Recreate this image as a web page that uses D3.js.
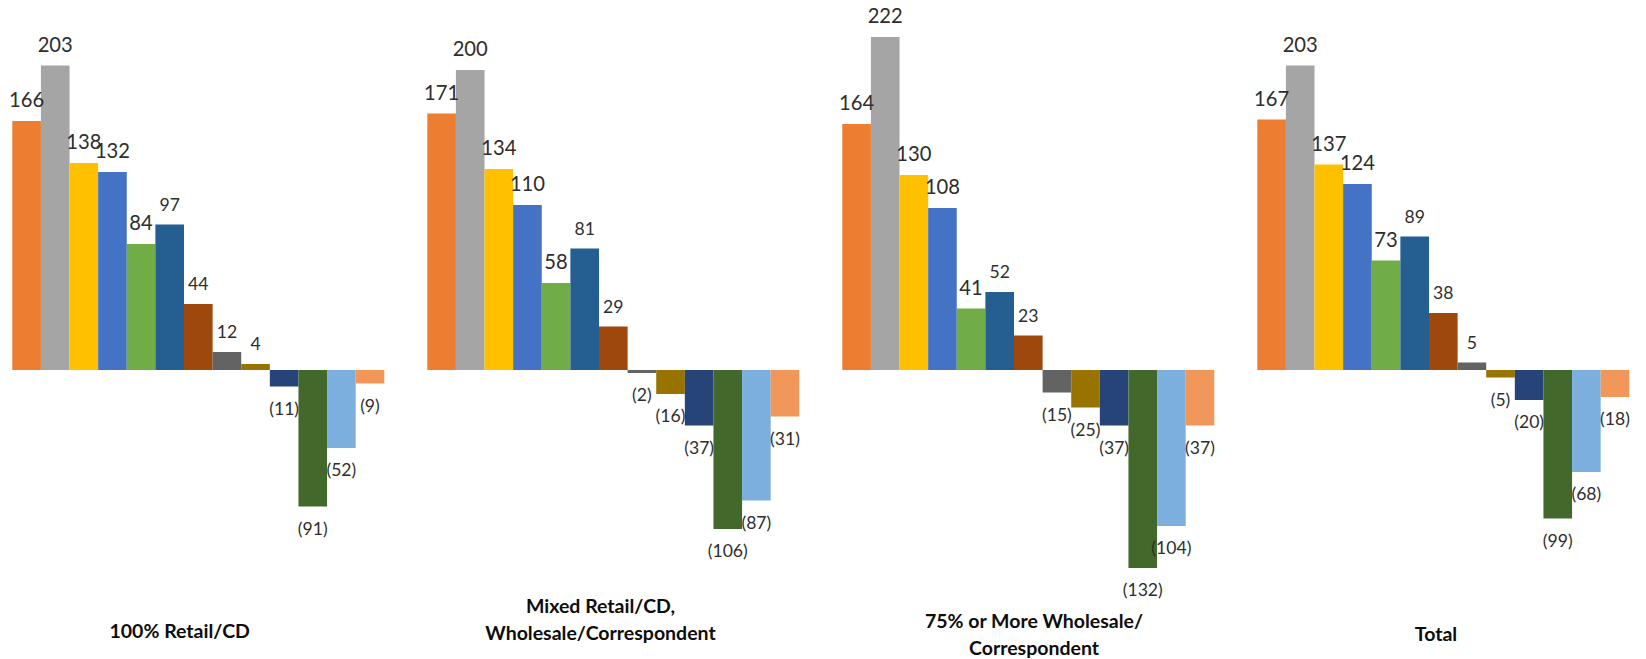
<!DOCTYPE html>
<html>
<head>
<meta charset="utf-8">
<script src="https://cdn.jsdelivr.net/npm/d3@7/dist/d3.min.js"></script>
<style>
  html, body { margin: 0; padding: 0; background: #ffffff; }
  svg { display: block; }
</style>
</head>
<body>
<svg id="chart" width="1646" height="659"></svg>
<script>
// Channel groups shown along the bottom
const categories = ["100% Retail/CD", "Mixed Retail/CD, Wholesale/Correspondent", "75% or More Wholesale/Correspondent", "Total"];
const categoryTitleLines = [
  ["100% Retail/CD"],
  ["Mixed Retail/CD,", "Wholesale/Correspondent"],
  ["75% or More Wholesale/", "Correspondent"],
  ["Total"]
];

// Thirteen series, in plotting order
const seriesKeys = ["s2", "s3", "s4", "s5", "s6", "s7", "s8", "s9", "s10", "s11", "s12", "s13", "s14"];
const seriesColors = ["#ED7D31", "#A5A5A5", "#FFC000", "#4472C4", "#70AD47", "#255E91", "#9E480E",
                      "#636363", "#997300", "#264478", "#43682B", "#7CAFDD", "#F1975A"];

// Values per group (negatives are shown in parentheses)
const retailValues    = [166, 203, 138, 132, 84, 97, 44, 12, 4, -11, -91, -52, -9];
const mixedValues     = [171, 200, 134, 110, 58, 81, 29, -2, -16, -37, -106, -87, -31];
const wholesaleValues = [164, 222, 130, 108, 41, 52, 23, -15, -25, -37, -132, -104, -37];
const totalValues     = [167, 203, 137, 124, 73, 89, 38, 5, -5, -20, -99, -68, -18];

const groupValues = [retailValues, mixedValues, wholesaleValues, totalValues];

const rows = categories.map((c, i) => ({
  category: c,
  lines: categoryTitleLines[i],
  bars: seriesKeys.map((k, j) => ({ key: k, index: j, value: groupValues[i][j] }))
}));

const svg = d3.select("#chart");

// Outer band per group, inner band per series (bars touch, 150% gap between groups)
const gapRatio = 43 / 415;
const x0 = d3.scaleBand()
  .domain(categories)
  .range([-9.2, 1650.8])
  .paddingInner(gapRatio)
  .paddingOuter(gapRatio / 2);

const x1 = d3.scaleBand()
  .domain(seriesKeys)
  .range([0, x0.bandwidth()])
  .padding(0);

const y = d3.scaleLinear()
  .domain([-150, 250])
  .range([595, -5]);

const color = d3.scaleOrdinal().domain(seriesKeys).range(seriesColors);

const fmt = v => v < 0 ? `(${Math.abs(v)})` : `${v}`;

const groups = svg.selectAll("g.group")
  .data(rows)
  .join("g")
  .attr("class", "group")
  .attr("transform", d => `translate(${x0(d.category)},0)`);

groups.selectAll("rect")
  .data(d => d.bars)
  .join("rect")
  .attr("x", d => x1(d.key))
  .attr("width", x1.bandwidth())
  .attr("y", d => y(Math.max(0, d.value)))
  .attr("height", d => Math.abs(y(d.value) - y(0)))
  .attr("fill", d => color(d.key));

// Value labels: the first five series carry a larger label
groups.selectAll("text.value")
  .data(d => d.bars)
  .join("text")
  .attr("class", "value")
  .attr("x", d => x1(d.key) + x1.bandwidth() / 2)
  .attr("y", d => d.value >= 0 ? y(d.value) - 14 : y(d.value) + 28)
  .attr("text-anchor", "middle")
  .attr("font-family", "Lato, 'Open Sans', sans-serif")
  .attr("font-size", d => d.index < 5 ? 20.2 : 17.6)
  .attr("fill", "#2e2e2e")
  .text(d => fmt(d.value));

// Group titles beneath the bars
const titleShift = [-18.6, -12.8, 5.7, -7.3];
const titleBaseline = [638, 613, 628, 641];

rows.forEach((r, i) => {
  const t = svg.append("text")
    .attr("class", "title")
    .attr("x", x0(r.category) + x0.bandwidth() / 2 + titleShift[i])
    .attr("y", titleBaseline[i])
    .attr("text-anchor", "middle")
    .attr("font-family", "Lato, 'Open Sans', sans-serif")
    .attr("font-weight", "bold")
    .attr("font-size", 19.5)
    .attr("fill", "#0d0d0d");
  r.lines.forEach((line, k) => {
    t.append("tspan")
      .attr("x", x0(r.category) + x0.bandwidth() / 2 + titleShift[i])
      .attr("dy", k === 0 ? 0 : 26.5)
      .text(line);
  });
});
</script>
</body>
</html>
